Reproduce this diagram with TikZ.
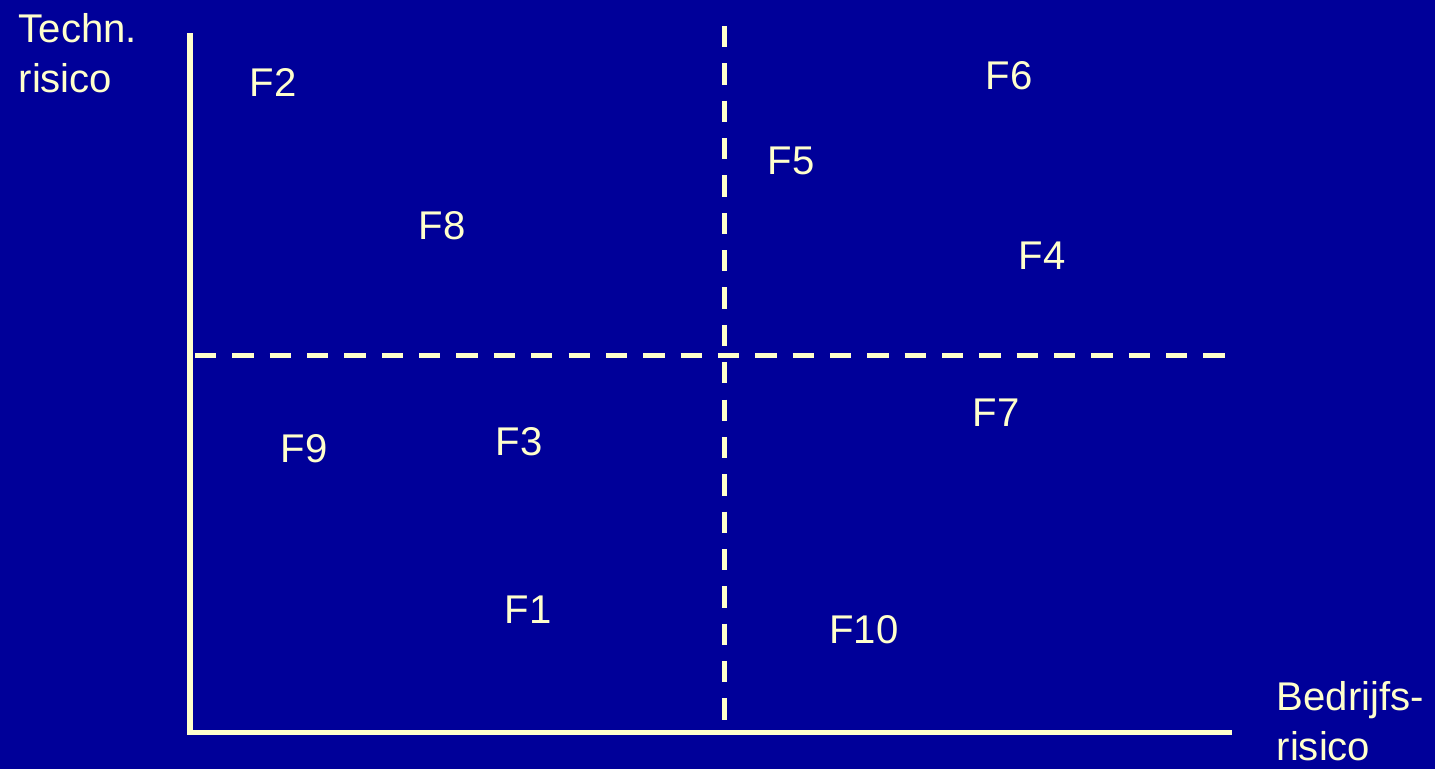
\documentclass[tikz,border=0pt]{standalone}
\usepackage{fontspec}
\setmainfont{Liberation Sans}
\usepackage{tikz}
\usetikzlibrary{positioning}
\definecolor{slidebg}{HTML}{000099}
\definecolor{cream}{HTML}{FFFFCC}

\begin{document}
\begin{tikzpicture}[
  x=0.01cm, y=-0.01cm,
  axis/.style={draw=cream, line width=0.05cm},
  split/.style={draw=cream, line width=0.05cm, dash pattern=on 0.213cm off 0.1603cm},
  lbl/.style={text=cream, font=\fontsize{11.4}{14.2}\selectfont, inner sep=0pt},
  axlbl/.style={lbl, align=left, anchor=base west}]
\fill[slidebg] (0,0) rectangle (1435,769);
\useasboundingbox (0,0) rectangle (1435,769);
% axes
\coordinate (orig) at (190,732);
\coordinate (ytop) at (190,33);
\coordinate (xend) at (1232,732);
\draw[axis] (ytop) -- (orig) -- (xend);
% quadrant split
\coordinate (vtop) at (724,26);
\coordinate (vbot) at (724,720);
\coordinate (hlft) at (195,355);
\coordinate (hrgt) at (1225,355);
\draw[split] (vtop) -- (vbot);
\draw[split] (hlft) -- (hrgt);
% axis labels
\node[axlbl] (techn) at (18,92) {Techn.\\risico};
\node[axlbl] (bedr) at (1276,760) {Bedrijfs-\\risico};
% items
\node[lbl] (f2) at (273,82) {F2};
\node[lbl] (f6) at (1009,76) {F6};
\node[lbl] (f5) at (791,161) {F5};
\node[lbl] (f8) at (442,226) {F8};
\node[lbl] (f4) at (1042,256) {F4};
\node[lbl] (f7) at (996,413) {F7};
\node[lbl] (f9) at (304,449) {F9};
\node[lbl] (f3) at (519,442) {F3};
\node[lbl] (f1) at (528,610) {F1};
\node[lbl] (f10) at (864,630) {F10};
\end{tikzpicture}
\end{document}
